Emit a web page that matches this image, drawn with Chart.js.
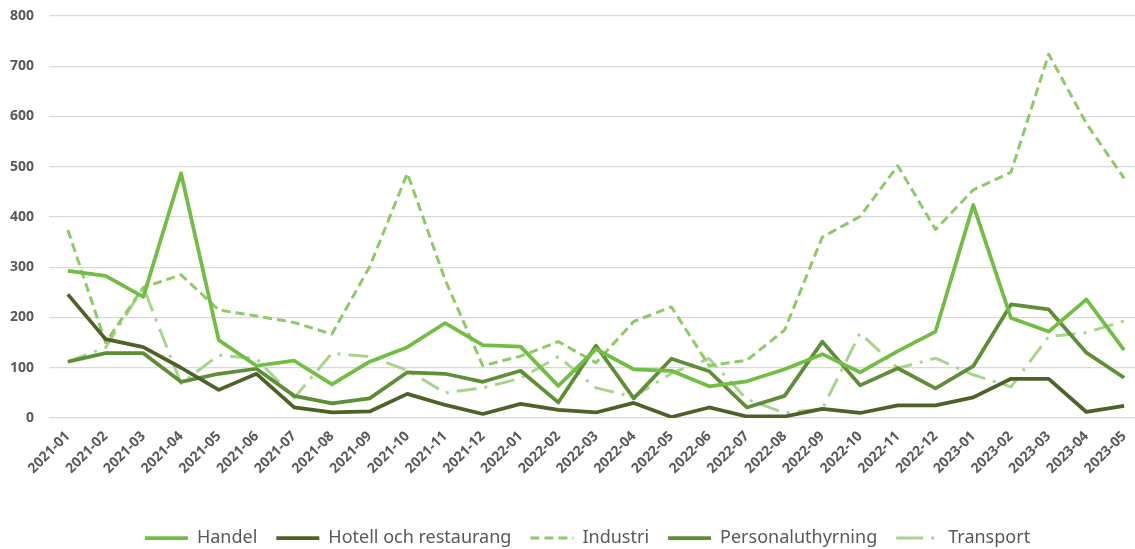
<!DOCTYPE html>
<html>
<head>
<meta charset="utf-8">
<script src="https://cdn.jsdelivr.net/npm/chart.js@4/dist/chart.umd.min.js"></script>
<style>
  html, body { margin: 0; padding: 0; background: #fff; overflow: hidden; }
  #wrap { width: 1143px; height: 549px; position: relative; }
</style>
</head>
<body>
<div id="wrap"><canvas id="lineChart"></canvas></div>
<script>
var months = ["2021-01","2021-02","2021-03","2021-04","2021-05","2021-06","2021-07","2021-08","2021-09","2021-10","2021-11","2021-12",
              "2022-01","2022-02","2022-03","2022-04","2022-05","2022-06","2022-07","2022-08","2022-09","2022-10","2022-11","2022-12",
              "2023-01","2023-02","2023-03","2023-04","2023-05"];

var handel = [293, 283, 241, 487, 155, 104, 114, 67, 112, 141, 189, 145, 142, 64, 137, 97, 94, 63, 73, 97, 127, 91, 133, 172, 424, 199, 172, 236, 135];
var hotell = [246, 157, 141, 100, 56, 88, 21, 11, 13, 48, 26, 8, 28, 16, 11, 30, 2, 21, 3, 3, 18, 10, 25, 25, 41, 78, 78, 12, 24];
var industri = [374, 150, 260, 285, 215, 203, 190, 167, 301, 487, 275, 104, 123, 152, 110, 192, 221, 104, 115, 175, 360, 401, 502, 375, 454, 489, 724, 586, 477];
var personal = [112, 129, 129, 72, 88, 98, 44, 29, 39, 91, 88, 72, 94, 31, 144, 39, 118, 93, 21, 44, 152, 65, 99, 59, 103, 226, 216, 130, 80];
var transport = [112, 140, 260, 69, 125, 118, 40, 129, 122, 95, 50, 60, 79, 122, 60, 42, 89, 118, 37, 10, 18, 169, 99, 119, 86, 62, 162, 170, 193];

var yTicks = [0, 100, 200, 300, 400, 500, 600, 700, 800];

var textGray = "#595959";

// move legend into place (Excel-like spacing)
var legendNudge = {
    id: 'legendNudge',
    afterLayout: function(chart) {
        var l = chart.legend;
        l.top += 8; l.bottom += 8;
        l.left += 16; l.right += 16;
    }
};

var ctx = document.getElementById("lineChart").getContext('2d');
new Chart(ctx, {
    type: 'line',
    data: {
        labels: months,
        datasets: [
            { label: "Handel", data: handel, borderColor: "#72BE44", backgroundColor: "#72BE44", borderWidth: 3.75 },
            { label: "Hotell och restaurang", data: hotell, borderColor: "#4E6228", backgroundColor: "#4E6228", borderWidth: 3.75 },
            { label: "Industri", data: industri, borderColor: "#8DCB66", backgroundColor: "#8DCB66", borderWidth: 3, borderDash: [9, 5] },
            { label: "Personaluthyrning", data: personal, borderColor: "#5E8E36", backgroundColor: "#5E8E36", borderWidth: 3.75 },
            { label: "Transport", data: transport, borderColor: "#A9D48D", backgroundColor: "#A9D48D", borderWidth: 3, borderDash: [20, 8, 3, 8], legendDash: [27, 8, 3, 20] }
        ]
    },
    options: {
        responsive: true,
        maintainAspectRatio: false,
        animation: false,
        layout: { padding: { top: 16, left: 0, right: 0, bottom: 0 } },
        elements: {
            point: { radius: 0, hoverRadius: 0, pointStyle: 'line' },
            line: { tension: 0, borderCapStyle: 'butt', borderJoinStyle: 'round' }
        },
        scales: {
            x: {
                offset: true,
                grid: { display: false },
                border: { display: false },
                ticks: {
                    color: textGray,
                    font: { family: "Noto Sans", weight: "bold", size: 14 },
                    minRotation: 45, maxRotation: 45,
                    autoSkip: false,
                    padding: 2
                },
                afterFit: function(scale) { scale.height = 84; }
            },
            y: {
                min: 0, max: 800,
                afterBuildTicks: function(scale) { scale.ticks = yTicks.map(function(v) { return { value: v }; }); },
                grid: { color: "#D9D9D9", lineWidth: 1.3, drawTicks: false },
                border: { display: false },
                ticks: {
                    color: textGray,
                    font: { family: "Noto Sans", weight: "bold", size: 14 },
                    padding: 15
                },
                afterFit: function(scale) {
                    scale.width = 49;
                    scale.paddingTop = 8;
                    scale.paddingBottom = 8;
                }
            }
        },
        plugins: {
            tooltip: { enabled: false },
            legend: {
                position: 'bottom',
                labels: {
                    usePointStyle: true,
                    pointStyleWidth: 43,
                    color: textGray,
                    font: { family: "Noto Sans", size: 18 },
                    padding: 19,
                    generateLabels: function(chart) {
                        var items = Chart.defaults.plugins.legend.labels.generateLabels(chart);
                        items.forEach(function(it) {
                            var ds = chart.data.datasets[it.datasetIndex];
                            it.lineDash = ds.legendDash || ds.borderDash || [];
                        });
                        return items;
                    }
                }
            }
        }
    },
    plugins: [legendNudge]
});
</script>
</body>
</html>
